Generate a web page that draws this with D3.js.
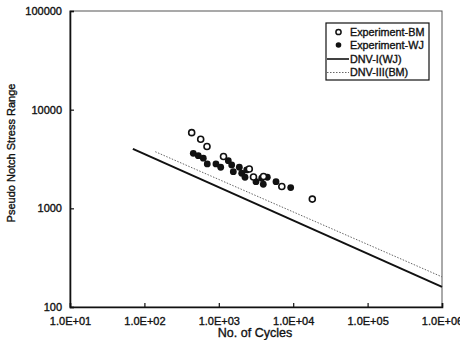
<!DOCTYPE html>
<html>
<head>
<meta charset="UTF-8">
<script src="https://d3js.org/d3.v7.min.js"></script>
<style>
  body { margin: 0; padding: 0; background: #fff; }
  text { font-family: Arial, 'Liberation Sans', sans-serif; fill: #111; stroke: #111; stroke-width: 0.35px; }
</style>
</head>
<body>
<svg width="460" height="340"></svg>
<script>
// experiment points: cycles, stress range
const bmCycles = [432, 571, 694, 1157, 2570, 2926, 3990, 7030, 18070];
const bmStress = [5850, 5012, 4236, 3357, 2506, 2080, 2104, 1667, 1240];

const wjCycles = [454, 530, 619, 700, 916, 1061, 1342, 1490, 1567, 1887, 2032, 2371, 2250, 3162, 3773, 3963, 4487, 5875, 9250];
const wjStress = [3614, 3420, 3220, 2818, 2818, 2608, 3041, 2754, 2355, 2608, 2268, 2449, 2065, 1865, 2018, 1754, 2065, 1865, 1622];

// design curves (end points)
const dnv1 = [[70, 4000], [1e6, 160]];
const dnv3 = [[140, 3750], [1e6, 202]];

const xTicks = [1e1, 1e2, 1e3, 1e4, 1e5, 1e6];
const xTickLabels = ["1.0E+01", "1.0E+02", "1.0E+03", "1.0E+04", "1.0E+05", "1.0E+06"];
const yTicks = [100, 1000, 10000, 100000];

const legendNames = ["Experiment-BM", "Experiment-WJ", "DNV-I(WJ)", "DNV-III(BM)"];

const svg = d3.select("svg");
const L = 70, R = 442, T = 11, B = 307;

const x = d3.scaleLog().domain([10, 1e6]).range([L, R]);
const y = d3.scaleLog().domain([100, 100000]).range([B, T]);

// frame
svg.append("rect").attr("x", L).attr("y", T).attr("width", R - L).attr("height", B - T)
  .attr("fill", "none").attr("stroke", "#555").attr("stroke-width", 1);

// axes
const xAxis = d3.axisBottom(x).tickValues(xTicks).tickSize(-4).tickFormat((d, i) => xTickLabels[i]);
const gx = svg.append("g").attr("transform", `translate(0,${B})`).call(xAxis);
gx.select(".domain").attr("stroke", "#111").attr("stroke-width", 1.6);
gx.selectAll(".tick line").attr("stroke", "#111").attr("stroke-width", 1.2);
gx.selectAll(".tick text").attr("font-size", 11).attr("dy", "1.4em").attr("font-family", null);

const yAxis = d3.axisLeft(y).tickValues(yTicks).tickSize(-4).tickFormat(d3.format("d"));
const gy = svg.append("g").attr("transform", `translate(${L},0)`).call(yAxis);
gy.select(".domain").attr("stroke", "#111").attr("stroke-width", 1.6);
gy.selectAll(".tick line").attr("stroke", "#111").attr("stroke-width", 1.2);
gy.selectAll(".tick text").attr("font-size", 11).attr("x", -8).attr("font-family", null);

// axis titles
svg.append("text").attr("x", 255).attr("y", 337).attr("text-anchor", "middle")
  .attr("font-size", 12.5).text("No. of Cycles");
svg.append("text").attr("transform", "translate(15,153) rotate(-90)").attr("text-anchor", "middle")
  .attr("font-size", 11).text("Pseudo Notch Stress Range");

// design curves
const line = d3.line().x(d => x(d[0])).y(d => y(d[1]));
svg.append("path").datum(dnv1).attr("d", line).attr("fill", "none")
  .attr("stroke", "#111").attr("stroke-width", 2);
svg.append("path").datum(dnv3).attr("d", line).attr("fill", "none")
  .attr("stroke", "#666").attr("stroke-width", 1).attr("stroke-dasharray", "1.5,1.5");

// points
svg.append("g").selectAll("circle").data(wjCycles).join("circle")
  .attr("cx", d => x(d)).attr("cy", (d, i) => y(wjStress[i])).attr("r", 3.4)
  .attr("fill", "#111");
svg.append("g").selectAll("circle").data(bmCycles).join("circle")
  .attr("cx", d => x(d)).attr("cy", (d, i) => y(bmStress[i])).attr("r", 3)
  .attr("fill", "#fff").attr("stroke", "#111").attr("stroke-width", 1.6);

// legend
const lg = svg.append("g");
lg.append("rect").attr("x", 326).attr("y", 23).attr("width", 103).attr("height", 57)
  .attr("fill", "#fff").attr("stroke", "#111").attr("stroke-width", 1.2);
const rowY = [32, 45, 59, 72.5];
lg.append("circle").attr("cx", 338.5).attr("cy", rowY[0]).attr("r", 2.6)
  .attr("fill", "#fff").attr("stroke", "#111").attr("stroke-width", 1.5);
lg.append("circle").attr("cx", 338.5).attr("cy", rowY[1]).attr("r", 2.8).attr("fill", "#111");
lg.append("line").attr("x1", 327).attr("x2", 349).attr("y1", rowY[2]).attr("y2", rowY[2])
  .attr("stroke", "#111").attr("stroke-width", 1.6);
lg.append("line").attr("x1", 327).attr("x2", 349).attr("y1", rowY[3]).attr("y2", rowY[3])
  .attr("stroke", "#666").attr("stroke-width", 1).attr("stroke-dasharray", "1.5,1.5");
lg.selectAll("text.lab").data(legendNames).join("text").attr("class", "lab")
  .attr("x", 350).attr("y", (d, i) => rowY[i]).attr("dy", "0.35em")
  .attr("font-size", 10.8).text(d => d);
</script>
</body>
</html>
